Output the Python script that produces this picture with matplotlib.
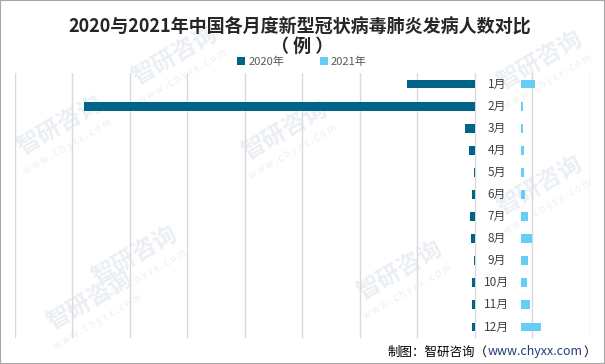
import matplotlib
matplotlib.use("Agg")
import matplotlib.pyplot as plt
from matplotlib.patches import Rectangle

plt.rcParams['font.family'] = ['Noto Sans CJK SC', 'DejaVu Sans']

months = ["1月", "2月", "3月", "4月", "5月", "6月",
          "7月", "8月", "9月", "10月", "11月", "12月"]
cases_2020 = [11880, 68000, 1740, 1040, 170, 520, 870, 700, 170, 520, 520, 520]
cases_2021 = [2430, 350, 350, 520, 520, 700, 1220, 1910, 1220, 1040, 1570, 3480]
series = ["2020年", "2021年"]
gap = 8000  # room for the month labels between the two sides

c2020 = "#006488"
c2021 = "#66CDF6"

W, H = 605, 364
fig = plt.figure(figsize=(W / 100, H / 100), dpi=100)
ax = fig.add_axes([14.5 / W, (H - 338) / H, (590 - 14.5) / W, (338 - 73) / H])
ax.set_zorder(2)
ax.patch.set_alpha(0)

y = list(range(len(months)))
ax.barh(y, [-v for v in cases_2020], height=0.4, color=c2020, label=series[0], zorder=3)
ax.barh(y, cases_2021, left=gap, height=0.4, color=c2021, label=series[1], zorder=3)
for i, m in enumerate(months):
    ax.text(gap / 2 - 200, i, m, ha="center", va="center", fontsize=8.5, color="#404040", zorder=4)

ax.set_xlim(-80000, 20000)
ax.set_ylim(len(months) - 0.5, -0.5)
ax.set_xticks(range(-80000, 20001, 10000))
ax.set_yticks([])
ax.tick_params(axis="x", length=0, labelbottom=False)
ax.grid(axis="x", color="#d9d9d9", linewidth=1, zorder=0)
for s in ax.spines.values():
    s.set_visible(False)

# watermarks (behind the chart)
wm = [(175, 55), (60, 125), (285, 130), (135, 255), (400, 270), (540, 60), (540, 185), (90, 300)]
for x0, y0 in wm:
    fig.text(x0 / W, 1 - y0 / H, "智研咨询", rotation=30, fontsize=17, color="#ebeff4",
             ha="center", va="center", fontweight="bold", zorder=0)
    fig.text((x0 + 8) / W, 1 - (y0 + 22) / H, "w w w . c h y x x . c o m", rotation=30, fontsize=7,
             color="#ebeff4", ha="center", va="center", zorder=0)

fig.text(300 / W, 1 - 27 / H, "2020与2021年中国各月度新型冠状病毒肺炎发病人数对比",
         ha="center", va="center", fontsize=13, fontweight="bold", color="#262626", zorder=3)
fig.text(302 / W, 1 - 46 / H, "（ 例 ）", ha="center", va="center",
         fontsize=13, fontweight="bold", color="#262626", zorder=3)

leg = fig.legend(loc="center", bbox_to_anchor=(302 / W, 1 - 62 / H), ncol=2, frameon=False,
                 fontsize=8, labelcolor="#595959", handlelength=0.7, handleheight=0.7,
                 handletextpad=0.3, columnspacing=3.2, borderpad=0)
leg.set_zorder(3)

# source line
fig.canvas.draw()
r = fig.canvas.get_renderer()
x = 388 / W
yy = 1 - 352 / H
for txt, col in [("制图：智研咨询（", "#000000"), ("www.chyxx.com", "#1f3d7a"), ("）", "#000000")]:
    t = fig.text(x, yy, txt, ha="left", va="center", fontsize=9, color=col, zorder=3)
    bb = t.get_window_extent(r)
    x += bb.width / W

fig.patches.append(Rectangle((0, 0), 1, 1, transform=fig.transFigure, fill=False,
                             edgecolor="#a6a6a6", linewidth=1.5, zorder=5))

fig.savefig("out.png", dpi=100)
